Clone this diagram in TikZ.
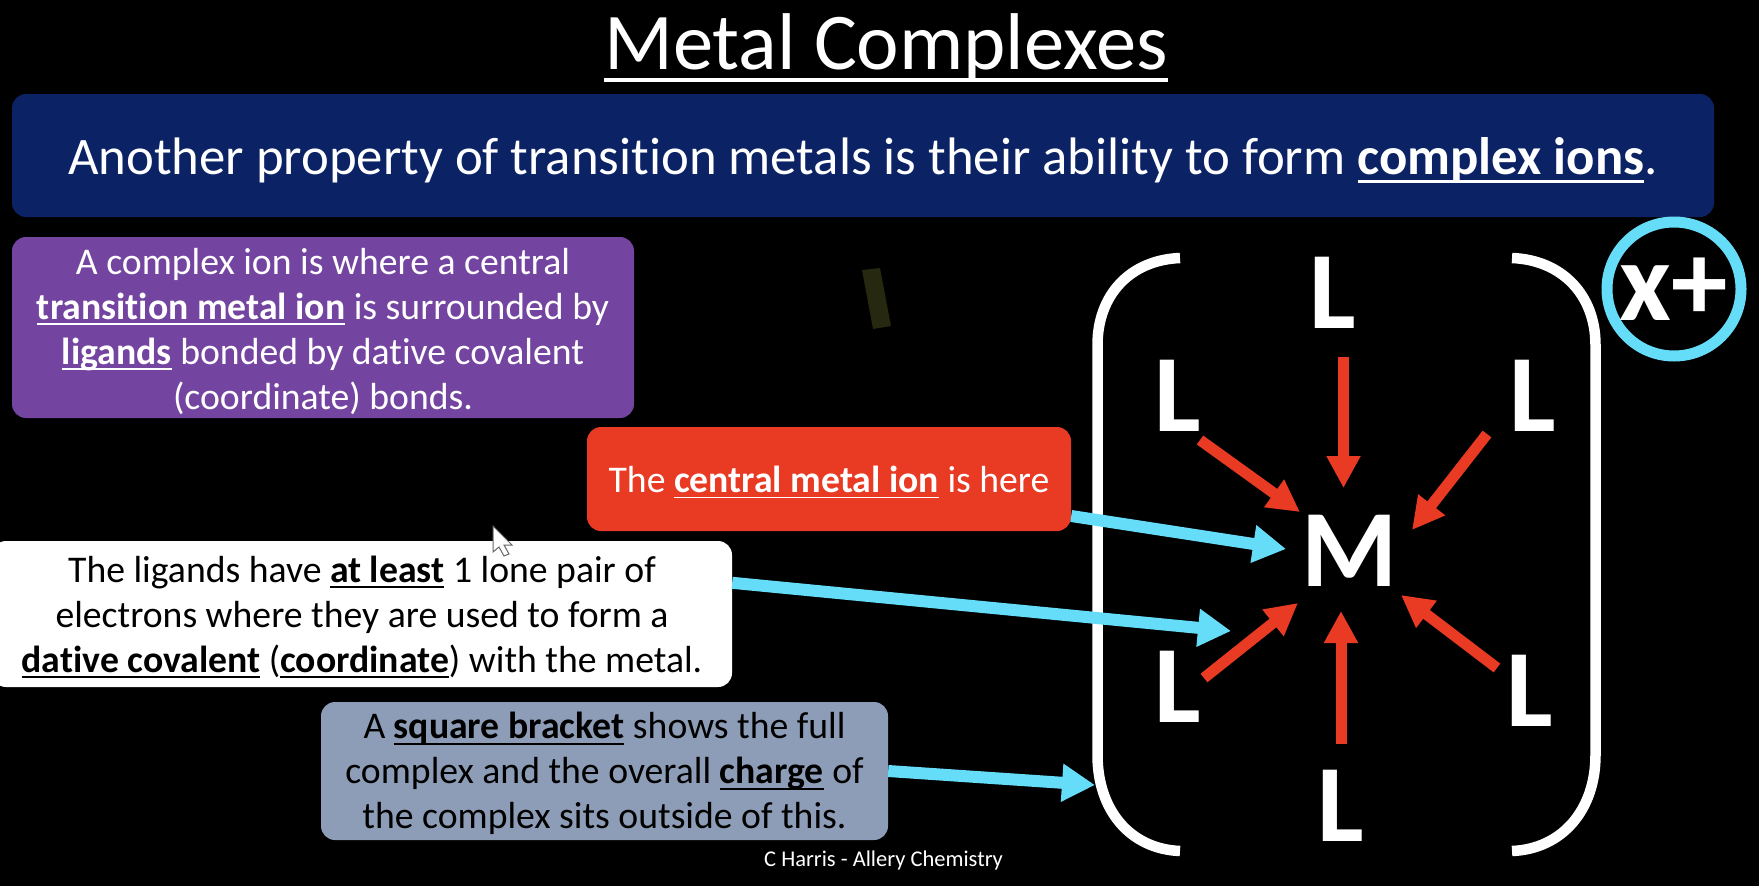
\documentclass[tikz,border=0pt]{standalone}
\usepackage{fontspec}
\setmainfont{Carlito}[Ligatures=NoCommon]
\usetikzlibrary{arrows.meta,calc}
\definecolor{bannerblue}{HTML}{0B2265}
\definecolor{boxpurple}{HTML}{7445A0}
\definecolor{boxred}{HTML}{E93A23}
\definecolor{boxgrey}{HTML}{8E9DB7}
\definecolor{linkcyan}{HTML}{66DDF8}
\definecolor{smudge}{HTML}{26280F}
\newcommand{\lineunder}[1]{\leavevmode\setbox0\hbox{#1}\rlap{\rule[-0.155em]{\wd0}{0.05em}}\box0\relax}
\newcommand{\keyterm}[1]{\lineunder{\textbf{#1}}}
\newcommand{\toplift}[1]{\rule{0pt}{#1pt}}
\tikzset{
  infobox/.style={rounded corners=14pt,inner sep=0pt,align=center,anchor=center},
  boxtext/.style={font=\fontsize{37.7}{45}\selectfont},
  ligand/.style={text=white,inner sep=0pt,font=\fontsize{110}{110}\selectfont\bfseries},
  bondarrow/.style={draw=boxred,line width=11pt,-{Triangle[length=32pt,width=32pt]}},
  linkarrow/.style={draw=linkcyan,line width=12pt,-{Triangle[length=33pt,width=36pt]}},
  bracketline/.style={draw=white,line width=10.5pt}
}
\begin{document}
\begin{tikzpicture}[x=1pt,y=1pt,yscale=-1,xscale=1]
\fill[black] (0,0) rectangle (1759,886);
\useasboundingbox (0,0) rectangle (1759,886);

% smudge behind the text
\fill[smudge] (862,270) -- (880,268) -- (891,326) -- (873,329) -- cycle;

% brackets
\draw[bracketline] (1180,258) .. controls (1130,260) and (1097.5,295) .. (1097.5,345) -- (1097.5,755) .. controls (1097.5,810) and (1130,849) .. (1180,851);
\draw[bracketline] (1512,258) .. controls (1562,260) and (1595.5,295) .. (1595.5,345) -- (1595.5,755) .. controls (1595.5,810) and (1562,849) .. (1512,851);

% title
\node (title) [text=white,inner sep=0pt,anchor=base,font=\fontsize{80.5}{81}\selectfont] at (886,69.5) {\lineunder{Metal Complexes}};

% boxes
\node (banner) [infobox,fill=bannerblue,minimum width=1702pt,minimum height=123pt,text=white,font=\fontsize{52.75}{52.75}\selectfont] at (863,155.5) {\toplift{47}Another property of transition metals is their ability to form \keyterm{complex ions}.};
\node (purplebox) [infobox,boxtext,fill=boxpurple,minimum width=622pt,minimum height=181pt,text=white] at (323,327.5) {\toplift{34}A complex ion is where a central\\\keyterm{transition metal ion} is surrounded by\\\keyterm{ligands} bonded by dative covalent\\(coordinate) bonds.};
\node (redbox) [infobox,boxtext,fill=boxred,minimum width=484pt,minimum height=104pt,text=white] at (829,479) {\toplift{33}The \keyterm{central metal ion} is here};
\node (whitebox) [infobox,boxtext,fill=white,minimum width=740pt,minimum height=146pt,text=black] at (362,614) {\toplift{32}The ligands have \keyterm{at least} 1 lone pair of\\electrons where they are used to form a\\\keyterm{dative covalent} (\keyterm{coordinate}) with the metal.};
\node (greybox) [infobox,boxtext,fill=boxgrey,minimum width=567pt,minimum height=138pt,text=black] at (604.5,771) {\toplift{32}A \keyterm{square bracket} shows the full\\complex and the overall \keyterm{charge} of\\the complex sits outside of this.};

\node (metal) [ligand] at (1350,551) {M};

% ligands
\node (ltop) [ligand] at (1333,293) {L};
\node (lul) [ligand] at (1178,396) {L};
\node (lur) [ligand] at (1533,396) {L};
\node (lll) [ligand] at (1178,687) {L};
\node (llr) [ligand] at (1530,691) {L};
\node (lbot) [ligand] at (1341,806) {L};

% bonds
\coordinate (tiptop) at (1343.5,488);
\coordinate (tipul) at (1300,512);
\coordinate (tipur) at (1412,530);
\coordinate (tipll) at (1298,603);
\coordinate (tiplr) at (1401,595);
\coordinate (tipbot) at (1341,611);
\coordinate (starttop) at (1343.5,357);
\coordinate (startul) at (1200,440);
\coordinate (startur) at (1487,434);
\coordinate (startll) at (1204,678);
\coordinate (startlr) at (1497,668);
\coordinate (startbot) at (1341,744);
\foreach \a/\b in {starttop/tiptop,startul/tipul,startur/tipur,startll/tipll,startlr/tiplr,startbot/tipbot}
  \draw[bondarrow] (\a) -- (\b);

% links
\coordinate (tipmetal) at (1286,549);
\coordinate (tipbond) at (1231,631);
\coordinate (tipbracket) at (1095,785);
\draw[linkarrow] (redbox) -- (tipmetal);
\draw[linkarrow] ($(whitebox.north east)+(0,42)$) -- (tipbond);
\draw[linkarrow] (greybox.east) -- (tipbracket);

% charge
\node (charge) [circle,draw=linkcyan,line width=11pt,minimum size=134pt,inner sep=0pt,text=white,font=\fontsize{113}{113}\selectfont\bfseries] at (1674,289) {\makebox[0pt]{x+}};

% cursor
\draw[draw=black!60,fill=white,line width=1pt] (493,526) -- (493,552) -- (499,547) -- (504,556) -- (509,554) -- (504,545) -- (512,545) -- cycle;

\node (credit) [text=white,inner sep=0pt,anchor=base west,font=\fontsize{22.5}{22.5}\selectfont] at (764,866) {C Harris - Allery Chemistry};
\end{tikzpicture}
\end{document}
